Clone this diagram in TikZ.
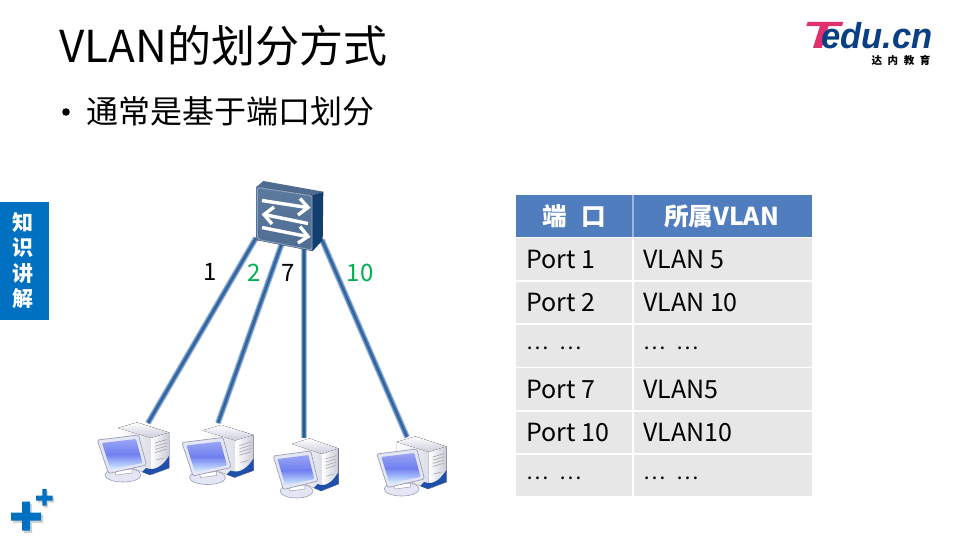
\documentclass[tikz,border=0pt]{standalone}
\usepackage{fontspec}
\usepackage{graphicx}
\setmainfont{Noto Sans CJK SC}
\newfontfamily\logofont{Liberation Sans}
\definecolor{edublue}{HTML}{0070C0}
\definecolor{headblue}{HTML}{4F7DBE}
\definecolor{cellgrey}{HTML}{E7E7E7}
\definecolor{labelgreen}{HTML}{00B050}
\definecolor{linkcore}{HTML}{4C7FBC}
\definecolor{linkdark}{HTML}{2C5A8C}
\definecolor{linkpale}{HTML}{A9C0DC}
\definecolor{logoblue}{HTML}{0B3F84}
\definecolor{logopink}{HTML}{E0306E}
\definecolor{swfront}{HTML}{5C7A9E}
\definecolor{swfrontb}{HTML}{4F6D92}
\definecolor{swtop}{HTML}{4F6C90}
\definecolor{swside}{HTML}{123F70}
\definecolor{swedge}{HTML}{8CA2BE}
\definecolor{screenhi}{HTML}{D8F0FF}
\definecolor{screenlo}{HTML}{6F7FF0}
\definecolor{bezel}{HTML}{E4E6F4}
\definecolor{bezeledge}{HTML}{9A9EB8}
\definecolor{towerlo}{HTML}{C9CBDA}
\definecolor{towerbase}{HTML}{1F4FA8}
\tikzset{
  celltext/.style={anchor=base west,font=\fontsize{25}{25}\selectfont,inner sep=0pt,text=black},
  dotstext/.style={anchor=base west,font=\fontsize{21}{21}\selectfont,inner sep=0pt,text=black},
  headtext/.style={anchor=base,font=\fontsize{24.6}{25}\selectfont\bfseries,inner sep=0pt,text=white},
  portlabel/.style={anchor=center,font=\fontsize{24}{24}\selectfont,inner sep=0pt},
  sidetext/.style={anchor=center,font=\fontsize{21}{21}\selectfont\bfseries,inner sep=0pt,text=white},
  bandcell/.style={fill=cellgrey,draw=none},
  linkpalestyle/.style={draw=linkpale,line width=6pt,xshift=-.6pt},
  linkcorestyle/.style={draw=linkcore,line width=4pt,xshift=.2pt},
  linkdarkstyle/.style={draw=linkdark,line width=1.2pt,xshift=2pt},
  swarrow/.style={draw=white,line width=3.4pt,line join=miter},
  pluspart/.style={fill=edublue},
  plusshadow/.style={fill=black!18},
  pics/pcbox/.style={code={
    \fill[left color=white,right color=towerlo] (22,6) -- (41,0.5) -- (73,10.5) -- (73,46) -- (54,53) -- (22,40) -- cycle;
    \fill[top color=white,bottom color=towerlo] (22,6) -- (41,0.5) -- (73,10.5) -- (55,16) -- cycle;
    \fill[left color=white,right color=towerlo] (55,16) -- (73,10.5) -- (73,46) -- (55,53) -- cycle;
    \foreach \i in {0,1,2,3} {\draw[black!32,line width=.7pt] (59,{21+\i*3.2}) -- (71,{17.5+\i*3.2});}
    \draw[black!32,line width=.7pt] (60,38) -- (68,36);
    \fill[towerbase] (50,46) .. controls (60,50) and (68,42) .. (73,34) -- (73,46) -- (54,53) -- (46,50) -- cycle;
    \fill[bezel,draw=bezeledge,line width=.6pt] (27,53) ellipse (18 and 7);
    \fill[white,draw=bezeledge,line width=.5pt] (19,49) -- (36,47) -- (36,51) -- (20,53) -- cycle;
    \fill[bezel,draw=bezeledge,line width=.7pt,rounded corners=1.5pt] (1.3,18) -- (42.5,13) -- (50.5,43) -- (12.5,51.5) -- cycle;
    \shade[top color=screenlo!70!white,bottom color=screenhi,middle color=screenlo,rounded corners=1pt] (6,21) -- (40,17) -- (46.5,41) -- (14.5,47.5) -- cycle;
  }},
}
\begin{document}
\begin{tikzpicture}[x=1pt,y=-1pt]
\useasboundingbox[fill=white] (0,0) rectangle (960,540);

% title
\node[anchor=base west,inner sep=0pt,font=\fontsize{44}{44}\selectfont] (title) at (59,63) {VLAN的划分方式};
\fill (66,112) circle (3.8) coordinate (bullet);
\node[anchor=base west,inner sep=0pt,font=\fontsize{32}{32}\selectfont] (sub) at (86,124) {通常是基于端口划分};

% logo
\node[anchor=base west,inner sep=0pt,font=\logofont\bfseries\itshape\fontsize{36}{36}\selectfont,text=logoblue] (logoE) at (802,49) {\textcolor{logopink}{\fontsize{38}{38}\selectfont\scalebox{1.6}[1]{T}}\hspace{-18pt}\scalebox{.96}[1]{edu.cn}};
\node[anchor=center,inner sep=0pt,font=\fontsize{10.5}{10.5}\selectfont\bfseries] (logoC) at (901,60.5) {达\hspace{5.6pt}内\hspace{5.6pt}教\hspace{5.6pt}育};

% side tab
\fill[edublue] (0,202) rectangle (49,320);
\node[sidetext] (s1) at (23,222) {知};
\node[sidetext] (s2) at (23,248) {识};
\node[sidetext] (s3) at (23,273) {讲};
\node[sidetext] (s4) at (23,299) {解};

% plus marks
\fill[plusshadow] (13,515) rectangle (43,523) (24,504) rectangle (32,533);
\fill[plusshadow] (37.5,497.5) rectangle (54,502.5) (43.5,491) rectangle (48,507.5);
\fill[pluspart] (11,512.7) rectangle (41,520.7) (22,501.7) rectangle (30,530.7);
\fill[pluspart] (36,495.7) rectangle (52.7,500.7) (42.3,489) rectangle (46.7,505.7);

% connector ends
\coordinate (sw1) at (256,238);
\coordinate (sw2) at (282,243);
\coordinate (sw3) at (304,247);
\coordinate (sw4) at (322,240);
\coordinate (pc1top) at (148,423);
\coordinate (pc2top) at (218,423);
\coordinate (pc3top) at (304,438);
\coordinate (pc4top) at (407,437);
\foreach \a/\b in {sw1/pc1top,sw2/pc2top,sw3/pc3top,sw4/pc4top}{
  \draw[linkpalestyle] (\a) -- (\b);
  \draw[linkcorestyle] (\a) -- (\b);
  \draw[linkdarkstyle] (\a) -- (\b);
}

% computers
\pic (pc1) at (96,422) {pcbox};
\pic (pc2) at (180.5,424.5) {pcbox};
\pic[xscale=.91] (pc3) at (272,438) {pcbox};
\pic[xscale=.97] (pc4) at (375.5,436) {pcbox};

% switch
\fill[swtop] (256.7,186.7) -- (263.3,181) -- (323.3,191.7) -- (312.7,195) -- cycle;
\fill[top color=swfront,bottom color=swfrontb] (256.7,186.7) -- (312.7,195) -- (312.7,251) -- (256.7,240) -- cycle;
\draw[swedge,line width=.9pt,rounded corners=2pt] (257.5,187.5) -- (312,195.8) -- (312,250) -- (257.5,239.3) -- cycle;
\fill[swside] (312.7,195) -- (323.3,191.7) -- (322.7,240) -- (312.7,251) -- cycle;
\draw[swarrow] (262,200.5) -- (307,207.5);
\draw[swarrow] (300,198.5) -- (308,207.5) -- (298,215);
\draw[swarrow] (308,223.5) -- (264,214.5);
\draw[swarrow] (274,207) -- (264,214.5) -- (272,224);
\draw[swarrow] (262,227.5) -- (307,236.5);
\draw[swarrow] (300,226.5) -- (308,236.5) -- (298,243);

% port labels
\node[portlabel,text=black] (l1) at (210,271.5) {1};
\node[portlabel,text=labelgreen] (l2) at (254,273) {2};
\node[portlabel,text=black] (l7) at (288.5,273) {7};
\node[portlabel,text=labelgreen] (l10) at (360,272.5) {10};

% table
\fill[headblue] (516,195) rectangle (812,237);
\fill[bandcell] (516,238) rectangle (812,280);
\fill[bandcell] (516,281.5) rectangle (812,323);
\fill[bandcell] (516,324.5) rectangle (812,366.5);
\fill[bandcell] (516,368) rectangle (812,410);
\fill[bandcell] (516,411.5) rectangle (812,453);
\fill[bandcell] (516,454.5) rectangle (812,496);
\fill[white] (632,238) rectangle (633.5,496);
\fill[white!45!headblue] (632,195) rectangle (633.5,237);
\node[headtext] (h1) at (574,225) {端\hspace{14pt}口};
\node[headtext] (h2) at (721.5,225) {所属VLAN};
\node[celltext] (a1) at (526,268) {Port 1};
\node[celltext] (b1) at (643,268) {VLAN 5};
\node[celltext] (a2) at (526,311) {Port 2};
\node[celltext] (b2) at (643,311) {VLAN 10};
\node[dotstext] (a3) at (526.5,349.5) {…\hspace{11pt}…};
\node[dotstext] (b3) at (643,349.5) {…\hspace{11pt}…};
\node[celltext] (a4) at (526,398) {Port 7};
\node[celltext] (b4) at (643,398) {VLAN5};
\node[celltext] (a5) at (526,441) {Port 10};
\node[celltext] (b5) at (643,441) {VLAN10};
\node[dotstext] (a6) at (526.5,479) {…\hspace{11pt}…};
\node[dotstext] (b6) at (643,479) {…\hspace{11pt}…};
\end{tikzpicture}
\end{document}
